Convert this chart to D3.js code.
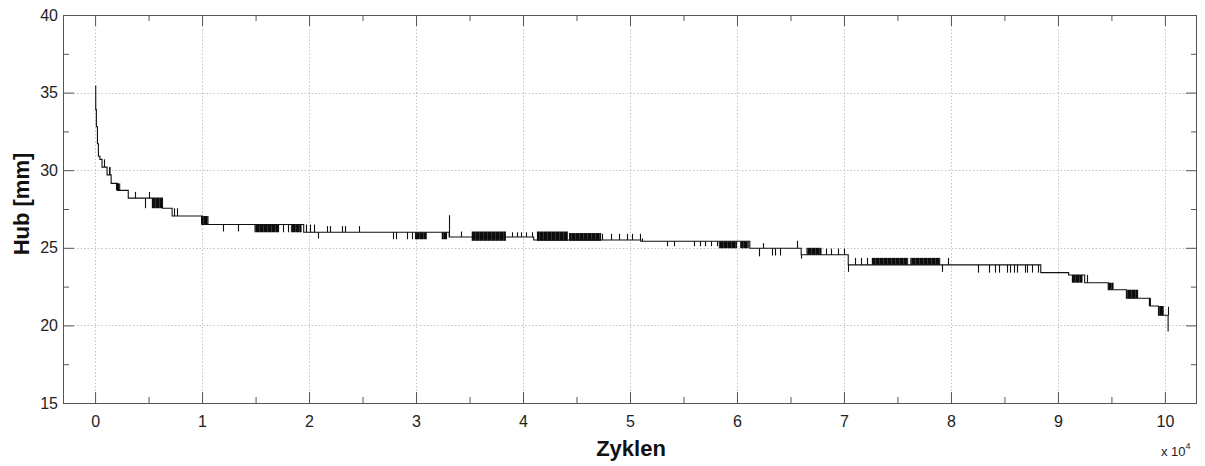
<!DOCTYPE html>
<html>
<head>
<meta charset="utf-8">
<script src="https://cdn.jsdelivr.net/npm/d3@7"></script>
<style>
  body { margin: 0; background: #fff; }
  svg { display: block; }
  text { font-family: "Liberation Sans", Arial, sans-serif; }
</style>
</head>
<body>
<svg id="chart" width="1205" height="466"></svg>
<script>
// Hub level over the cycle count: each level holds from its cycle onward
const levelCycles = [0, 60, 120, 220, 310, 450, 650, 1120, 1500, 2100, 3100, 6300, 7200, 10000,
  19500, 33100, 41000, 51000, 61200, 66000, 70400, 88400, 91000, 92500, 94700, 96400, 98600,
  99400, 100300];
const levelHub = [35.4, 33.9, 32.8, 31.7, 30.9, 30.7, 30.2, 29.7, 29.15, 28.7, 28.2, 27.55, 27.05, 26.5,
  26.0, 25.7, 25.5, 25.42, 24.97, 24.55, 23.9, 23.4, 23.25, 22.75, 22.3, 21.75, 21.25,
  20.65, 19.6];

// single readings that leave the current level
const spikeCycles = [850, 3700, 4700, 5000, 7400, 7700, 12000, 13400, 17600, 18000,
  19700, 20100, 20500, 20800, 21700, 22000, 23100, 23400, 24700, 27800, 28100,
  29200, 29600, 29900, 33100, 34200, 39000, 39400, 39800, 40300, 40800,
  47400, 48200, 49000, 49700, 50200, 50900, 51100, 53500, 54100, 56000, 56500, 57000,
  57600, 58100, 62100, 62400, 63300, 63600, 64000, 65600, 66000, 68300, 68800, 69400,
  70000, 70400, 71000, 71600, 72200, 79200, 79700, 82500, 83600, 84100, 84500, 85200,
  85500, 85900, 86200, 86900, 87100, 87600, 88100, 92700, 100250];
const spikeHub = [30.7, 28.6, 27.55, 28.6, 27.55, 27.55, 26.05, 26.05, 26.0, 26.0,
  26.5, 26.5, 26.5, 25.6, 26.4, 26.4, 26.4, 26.4, 26.4, 25.55, 25.55,
  25.55, 25.55, 25.55, 27.1, 26.05, 26.0, 26.0, 26.0, 26.0, 26.0,
  25.9, 25.9, 25.9, 25.9, 25.9, 25.9, 25.6, 25.1, 25.1, 25.1, 25.1, 25.1,
  25.1, 25.1, 24.45, 25.3, 24.5, 24.5, 24.5, 25.45, 24.3, 24.95, 24.95, 24.95,
  24.95, 23.45, 24.35, 24.35, 24.35, 23.45, 24.35, 23.4, 23.4, 23.4, 23.4, 23.4,
  23.4, 23.4, 23.4, 23.4, 23.4, 23.4, 23.4, 23.25, 21.2];

// stretches where the reading flips between two levels faster than one pixel
const bandStart = [1300, 1950, 5300, 9900, 14900, 18300, 30000, 32400, 35200, 41300, 44300,
  58300, 60300, 66500, 72600, 76200, 91300, 94700, 96400, 98500, 99400];
const bandEnd = [1450, 2350, 6300, 10600, 17200, 19300, 31000, 32900, 38400, 44200, 47300,
  60000, 61100, 67900, 76000, 79000, 92300, 95200, 97500, 98700, 99900];
const bandLow = [29.7, 28.7, 27.55, 26.5, 26.0, 26.0, 25.55, 25.55, 25.45, 25.45, 25.45,
  24.97, 24.97, 24.55, 23.9, 23.9, 22.75, 22.3, 21.75, 21.25, 20.65];
const bandHigh = [30.2, 29.15, 28.2, 27.05, 26.5, 26.5, 26.0, 26.0, 26.05, 26.05, 25.95,
  25.42, 25.42, 25.0, 24.35, 24.35, 23.25, 22.75, 22.3, 21.75, 21.25];

const xTicks = [0, 10000, 20000, 30000, 40000, 50000, 60000, 70000, 80000, 90000, 100000];
const xMinorTicks = [5000, 15000, 25000, 35000, 45000, 55000, 65000, 75000, 85000, 95000];
const yTicks = [15, 20, 25, 30, 35, 40];
const yMinorTicks = [17.5, 22.5, 27.5, 32.5, 37.5];

const svg = d3.select("#chart");
const plotL = 63, plotR = 1197, plotT = 15, plotB = 403;

const x = d3.scaleLinear().domain([-3000, 103000]).range([plotL, plotR]);
const y = d3.scaleLinear().domain([15, 40]).range([plotB, plotT]);

// dense vertical hatching for the fast-toggling stretches
const defs = svg.append("defs");
const hatch = defs.append("pattern").attr("id", "toggle")
  .attr("patternUnits", "userSpaceOnUse").attr("width", 4).attr("height", 4);
hatch.append("rect").attr("width", 4).attr("height", 4).attr("fill", "#333");
hatch.append("rect").attr("width", 3).attr("height", 4).attr("fill", "#0d0d0d");

// dotted grid at the major ticks
const grid = svg.append("g")
  .attr("stroke", "#c4c4c4").attr("stroke-width", 1).attr("stroke-dasharray", "1.5,2");
grid.selectAll("line.gx").data(xTicks).join("line").attr("class", "gx")
  .attr("x1", d => Math.round(x(d)) + 0.5).attr("x2", d => Math.round(x(d)) + 0.5)
  .attr("y1", plotT).attr("y2", plotB);
grid.selectAll("line.gy").data(yTicks.filter(d => d > 15 && d < 40)).join("line").attr("class", "gy")
  .attr("y1", d => Math.round(y(d)) + 0.5).attr("y2", d => Math.round(y(d)) + 0.5)
  .attr("x1", plotL).attr("x2", plotR);

// level lookup at a given cycle
const levelAt = c => levelHub[Math.max(0, d3.bisectRight(levelCycles, c) - 1)];

// fast-toggling stretches
svg.append("g").selectAll("rect").data(d3.range(bandStart.length)).join("rect")
  .attr("x", i => x(bandStart[i]))
  .attr("width", i => Math.max(1, x(bandEnd[i]) - x(bandStart[i])))
  .attr("y", i => y(bandHigh[i]))
  .attr("height", i => y(bandLow[i]) - y(bandHigh[i]))
  .attr("fill", "url(#toggle)");

// staircase line
const pts = levelCycles.map((c, i) => [c, levelHub[i]]);
svg.append("path")
  .attr("d", d3.line().x(d => x(d[0])).y(d => y(d[1])).curve(d3.curveStepAfter)(pts))
  .attr("fill", "none").attr("stroke", "#111").attr("stroke-width", 1.1);

// spikes
svg.append("g").attr("stroke", "#111").attr("stroke-width", 1.1)
  .selectAll("line").data(d3.range(spikeCycles.length)).join("line")
  .attr("x1", i => Math.round(x(spikeCycles[i])) + 0.5)
  .attr("x2", i => Math.round(x(spikeCycles[i])) + 0.5)
  .attr("y1", i => y(levelAt(spikeCycles[i])))
  .attr("y2", i => y(spikeHub[i]));

// axes with inward ticks on all four sides
const tickFont = g => g.selectAll("text")
  .attr("font-size", 16).attr("fill", "#222")
  .attr("font-family", '"Liberation Sans", Arial, sans-serif');
const axisStyle = g => {
  g.select(".domain").remove();
  g.selectAll("line").attr("stroke", "#555");
};

svg.append("g").attr("transform", `translate(0,${plotB})`)
  .call(d3.axisBottom(x).tickValues(xTicks).tickFormat(d => d / 10000)
    .tickSize(-11).tickPadding(13))
  .call(axisStyle).call(tickFont);
svg.append("g").attr("transform", `translate(0,${plotB})`)
  .call(d3.axisBottom(x).tickValues(xMinorTicks).tickFormat("").tickSize(-6))
  .call(axisStyle);
svg.append("g").attr("transform", `translate(0,${plotT})`)
  .call(d3.axisTop(x).tickValues(xTicks).tickFormat("").tickSize(-11))
  .call(axisStyle);
svg.append("g").attr("transform", `translate(0,${plotT})`)
  .call(d3.axisTop(x).tickValues(xMinorTicks).tickFormat("").tickSize(-6))
  .call(axisStyle);

svg.append("g").attr("transform", `translate(${plotL},0)`)
  .call(d3.axisLeft(y).tickValues(yTicks).tickSize(-11).tickPadding(5))
  .call(axisStyle).call(tickFont);
svg.append("g").attr("transform", `translate(${plotL},0)`)
  .call(d3.axisLeft(y).tickValues(yMinorTicks).tickFormat("").tickSize(-6))
  .call(axisStyle);
svg.append("g").attr("transform", `translate(${plotR},0)`)
  .call(d3.axisRight(y).tickValues(yTicks).tickFormat("").tickSize(-11))
  .call(axisStyle);
svg.append("g").attr("transform", `translate(${plotR},0)`)
  .call(d3.axisRight(y).tickValues(yMinorTicks).tickFormat("").tickSize(-6))
  .call(axisStyle);

// plot frame
svg.append("rect")
  .attr("x", plotL + 0.5).attr("y", plotT + 0.5)
  .attr("width", plotR - plotL - 1).attr("height", plotB - plotT)
  .attr("fill", "none").attr("stroke", "#555").attr("stroke-width", 1);

// axis titles
svg.append("text")
  .attr("x", 631).attr("y", 456).attr("text-anchor", "middle")
  .attr("font-size", 22).attr("font-weight", "bold").attr("fill", "#111")
  .text("Zyklen");
svg.append("text")
  .attr("transform", "translate(29,204) rotate(-90)").attr("text-anchor", "middle")
  .attr("font-size", 22).attr("font-weight", "bold").attr("fill", "#111")
  .text("Hub [mm]");

// scale factor of the cycle axis
const mult = svg.append("text").attr("x", 1161).attr("y", 456)
  .attr("font-size", 13).attr("fill", "#222");
mult.append("tspan").text("x 10");
mult.append("tspan").attr("font-size", 9).attr("dy", -7).text("4");
</script>
</body>
</html>
